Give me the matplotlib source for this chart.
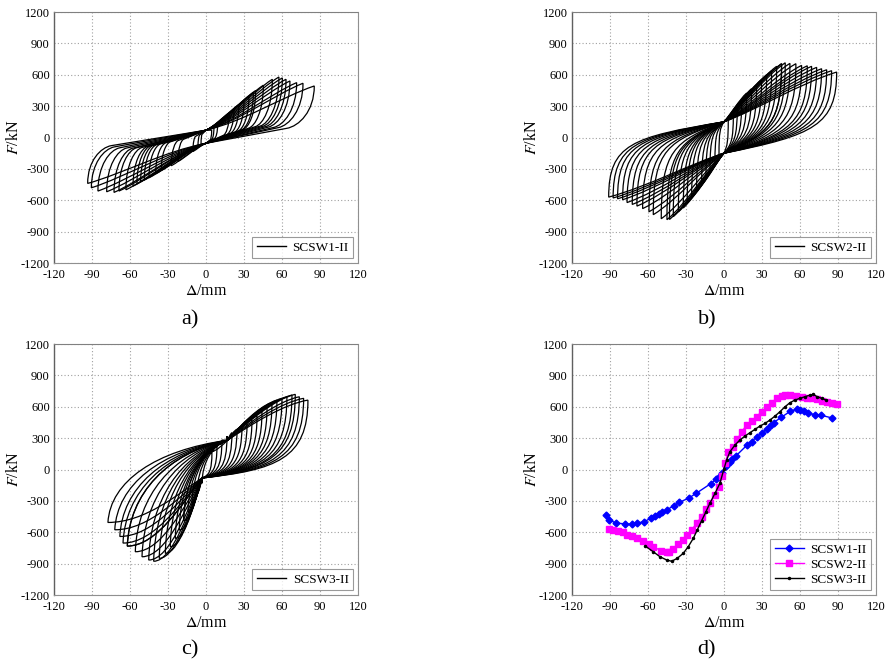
import numpy as np
import matplotlib
matplotlib.use("Agg")
import matplotlib.pyplot as plt
from matplotlib.path import Path
from matplotlib.patches import PathPatch
from matplotlib.lines import Line2D

plt.rcParams['font.family'] = ['Liberation Serif', 'DejaVu Serif']
plt.rcParams['mathtext.fontset'] = 'stix'
plt.rcParams['axes.unicode_minus'] = False

# ---------------- data: skeleton (envelope) curves ----------------
d1 = [-93.4, -90.5, -85.3, -78.4, -72.6, -68.7, -63.2, -57.6, -54.5, -51.6, -48.7, -45.0,
      -39.7, -35.3, -27.4, -22.1, -10.3, -6.3, -3.9, -1.6,
      1.8, 4.5, 6.3, 9.2, 18.4, 22.1, 26.0, 30.0, 33.9, 37.4, 39.2, 45.3, 52.4, 57.6,
      60.3, 63.2, 66.3, 71.6, 76.6, 85.5]
F1 = [-439, -481, -512, -519, -525, -512, -500, -465, -442, -423, -407, -385,
      -347, -315, -270, -229, -134, -92, -67, -29,
      35, 70, 99, 127, 236, 267, 315, 347, 391, 430, 449, 500, 557, 579,
      570, 557, 541, 525, 519, 493]

d2 = [-91.0, -87.5, -84.0, -80.0, -76.5, -72.4, -68.7, -64.2, -59.2, -55.8, -49.5, -45.0,
      -43.0, -40.0, -36.0, -32.1, -29.0, -25.5, -21.6, -17.6, -14.2, -11.0, -7.1, -3.9, -1.2,
      1.0, 3.4, 7.4, 10.5, 14.0, 17.9, 21.8, 25.8, 29.7, 33.7, 37.6, 41.6, 45.5, 48.4,
      52.1, 56.8, 61.3, 65.8, 69.2, 73.2, 77.1, 81.1, 85.0, 89.0]
F2 = [-570, -578, -586, -595, -622, -640, -656, -680, -710, -738, -777, -786,
      -784, -757, -712, -674, -626, -578, -515, -451, -381, -317, -244, -164, -60,
      60, 170, 218, 289, 361, 425, 467, 505, 553, 600, 639, 681, 706, 715,
      709, 706, 690, 686, 681, 671, 658, 648, 639, 626]

d3 = [-62.1, -55.8, -50.5, -45.2, -41.3, -36.9, -32.1, -28.2, -24.2, -21.1, -17.6, -14.2,
      -11.1, -7.1, -3.2, 0.0, 2.1, 4.7, 8.7, 12.6, 16.6, 20.5, 24.5, 28.4, 32.4, 36.3,
      40.3, 44.2, 48.2, 52.1, 56.0, 60.0, 63.9, 67.9, 70.5, 73.7, 77.1, 80.5]
F3 = [-732, -786, -834, -865, -877, -849, -801, -738, -658, -578, -489, -403,
      -323, -228, -132, 5, 91, 170, 234, 282, 320, 352, 384, 416, 441, 473,
      511, 553, 600, 639, 664, 681, 696, 712, 719, 696, 681, 664]

# extra negative cycle peaks of SCSW3-II seen only in the hysteresis record
d3_extra_neg = [-65.5, -68.0, -72.0, -77.4]
F3_extra_neg = [-703, -640, -576, -506]

names = ['SCSW1-II', 'SCSW2-II', 'SCSW3-II']
panel_labels = ['a)', 'b)', 'c)', 'd)']

# loop shape key values (per specimen)
pinchA = [(0.0, 70), (0.0, 150), (17.0, 280)]     # branch crossing toward +
pinchB = [(0.0, -55), (0.0, -150), (-3.0, -80)]   # branch crossing toward -
# each branch: (control1, control2, knee) as fractions of its start->end span
load_pos = [((0.35, 0.2), (0.7, 0.75), None),
            ((0.3, 0.25), (0.65, 0.75), None),
            ((0.3, 0.4), (0.7, 0.9), None)]
unload_pos = [((0.0, 0.6), (0.55, 0.95), (0.256, 0.74)),
              ((0.0, 0.65), (0.2, 0.78), None),
              ((0.0, 0.75), (0.3, 0.9), None)]
load_neg = [((0.35, 0.2), (0.7, 0.75), None),
            ((0.3, 0.25), (0.65, 0.75), None),
            ((0.25, 0.35), (0.6, 1.0), None)]
unload_neg = [((0.0, 0.6), (0.55, 0.95), (0.2, 0.71)),
              ((0.0, 0.7), (0.2, 0.8), None),
              ((0.02, 0.5), (0.4, 0.88), None)]

xticks = [-120, -90, -60, -30, 0, 30, 60, 90, 120]
yticks = [-1200, -900, -600, -300, 0, 300, 600, 900, 1200]


def frac(S, E, f):
    return (S[0] + f[0] * (E[0] - S[0]), S[1] + f[1] * (E[1] - S[1]))


def branch(S, E, spec):
    c1, c2, knee = spec
    K = E if knee is None else frac(S, E, knee)
    verts = [frac(S, K, c1), frac(S, K, c2), K]
    codes = [Path.CURVE4] * 3
    if knee is not None:
        verts.append(E)
        codes.append(Path.LINETO)
    return verts, codes


def loop_path(P, N, k):
    A, B = pinchA[k], pinchB[k]
    verts, codes = [A], [Path.MOVETO]
    for S, E, spec in [(A, P, load_pos[k]), (P, B, unload_pos[k]),
                       (B, N, load_neg[k]), (N, A, unload_neg[k])]:
        v, c = branch(S, E, spec)
        verts += v
        codes += c
    return Path(verts, codes)


def style_axes(ax):
    ax.set_xlim(-120, 120)
    ax.set_ylim(-1200, 1200)
    ax.set_xticks(xticks)
    ax.set_yticks(yticks)
    ax.grid(True, linestyle=(0, (1, 2)), color='#a0a0a0', linewidth=0.8)
    ax.set_axisbelow(True)
    ax.tick_params(length=0, labelsize=9)
    ax.tick_params(axis='x', pad=4)
    ax.tick_params(axis='y', pad=3)
    for s in ['right', 'bottom']:
        ax.spines[s].set_color('#909090')
        ax.spines[s].set_linewidth(0.8)
    ax.spines['left'].set_color('#606060')
    ax.spines['left'].set_linewidth(1.0)
    ax.spines['top'].set_color('#808080')
    ax.spines['top'].set_linestyle((0, (1, 1)))
    ax.spines['top'].set_linewidth(0.8)
    ax.set_xlabel(r'$\mathit{Δ}$/mm', fontsize=11.5, labelpad=2)
    ax.set_ylabel(r'$\mathit{F}$/kN', fontsize=11.5, labelpad=-1)


def add_legend(ax, handles, labels):
    leg = ax.legend(handles, labels, loc='lower right', fontsize=9.5, frameon=True,
                    fancybox=False, edgecolor='#808080', borderaxespad=0.35,
                    handlelength=2.2, handletextpad=0.5, borderpad=0.35,
                    labelspacing=0.2)
    leg.get_frame().set_linewidth(0.8)


fig = plt.figure(figsize=(8.88, 6.61), dpi=100)
pos = [(0.0608, 0.6021), (0.6441, 0.6021), (0.0608, 0.0998), (0.6441, 0.0998)]
axes = [fig.add_axes([x, y, 0.3423, 0.3797]) for x, y in pos]

skel = [(d1, F1), (d2, F2), (d3, F3)]
for k in range(3):
    ax = axes[k]
    style_axes(ax)
    d, F = skel[k]
    pos_pk = [(x, y) for x, y in zip(d, F) if x > 3]
    neg_pk = [(x, y) for x, y in zip(d, F) if x < -3][::-1]
    if k == 2:
        neg_pk += list(zip(d3_extra_neg, F3_extra_neg))
    n = max(len(pos_pk), len(neg_pk))
    for i in range(n):
        P = pos_pk[int(round(i * (len(pos_pk) - 1) / (n - 1)))]
        N = neg_pk[int(round(i * (len(neg_pk) - 1) / (n - 1)))]
        ax.add_patch(PathPatch(loop_path(P, N, k), facecolor='none',
                               edgecolor='black', lw=0.9))
    add_legend(ax, [Line2D([], [], color='black', lw=1.0)], [names[k]])

ax = axes[3]
style_axes(ax)
l1, = ax.plot(d1, F1, color='#0000FF', marker='D', markersize=3.5, lw=1.0)
l2, = ax.plot(d2, F2, color='#FF00FF', marker='s', markersize=3.8, lw=1.0)
l3, = ax.plot(d3, F3, color='black', marker='.', markersize=3.0, lw=1.0)
add_legend(ax, [l1, l2, l3], names)

lab_pos = [(0.214, 0.516), (0.796, 0.516), (0.214, 0.0166), (0.796, 0.0166)]
for (x, y), t in zip(lab_pos, panel_labels):
    fig.text(x, y, t, fontsize=16, ha='center', va='center')

fig.savefig('out.png', dpi=100)
